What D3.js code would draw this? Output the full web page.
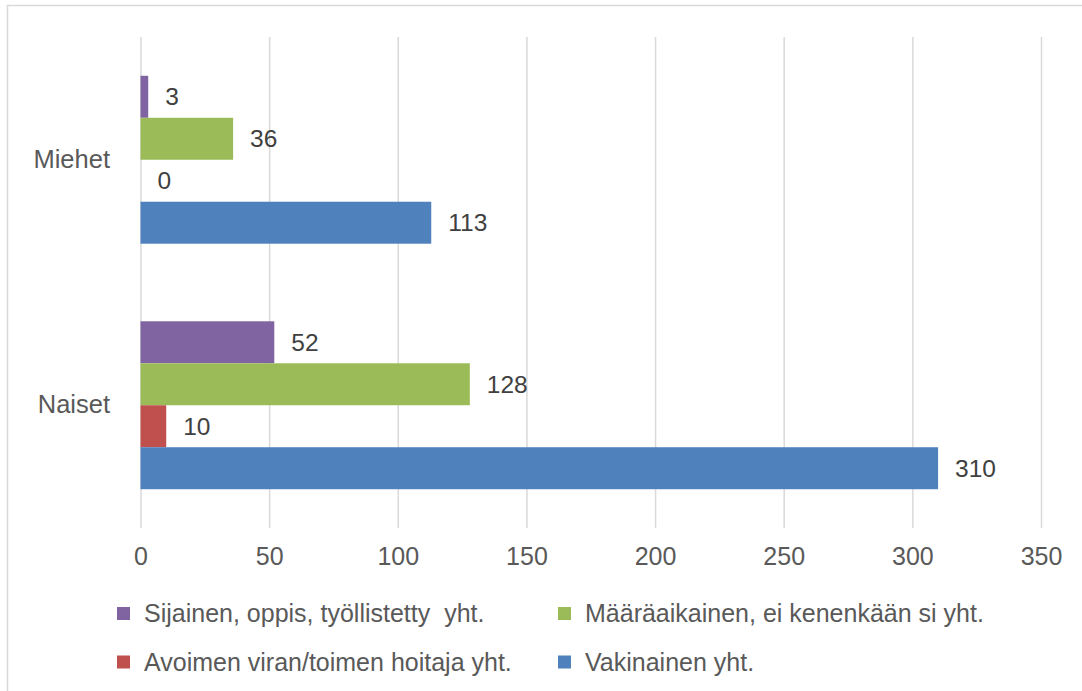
<!DOCTYPE html>
<html><head><meta charset="utf-8">
<script src="https://cdn.jsdelivr.net/npm/d3@7"></script>
<style>
html,body{margin:0;padding:0;background:#fff;}
svg{display:block;font-family:"Liberation Sans",Arial,sans-serif;}
</style></head>
<body><svg id="c" width="1082" height="691"></svg>
<script>
const categories = ["Miehet", "Naiset"];
const seriesNames = ["Sijainen, oppis, työllistetty  yht.", "Määräaikainen, ei kenenkään si yht.", "Avoimen viran/toimen hoitaja yht.", "Vakinainen yht."];
const seriesColors = ["#8064A2", "#9BBB59", "#C0504D", "#4F81BD"];
const sijainen = [3, 52];
const maaraaikainen = [36, 128];
const avoimen = [0, 10];
const vakinainen = [113, 310];
const xTicks = [0, 50, 100, 150, 200, 250, 300, 350];
const legendOrder = [[0, 1], [2, 3]];

const seriesValues = [sijainen, maaraaikainen, avoimen, vakinainen];
const svg = d3.select("#c");
const textColor = "#595959";

svg.append("rect").attr("x", 7.5).attr("y", 5.5).attr("width", 1090).attr("height", 700)
  .attr("fill", "#fff").attr("stroke", "#d9d9d9").attr("stroke-width", 1.5);

const x = d3.scaleLinear().domain([0, 350]).range([140.5, 1041]);
const y0 = d3.scaleBand().domain(categories).range([37, 528]).paddingInner(0.316).paddingOuter(0.158);
const y1 = d3.scaleBand().domain(d3.range(seriesNames.length)).range([0, y0.bandwidth()]);

// gridlines
const grid = svg.append("g").attr("transform", "translate(0,528)")
  .call(d3.axisBottom(x).tickValues(xTicks).tickSize(-491).tickFormat(""));
grid.select(".domain").remove();
grid.selectAll("line").attr("stroke", "#d9d9d9").attr("stroke-width", 1.5);

// tick labels
const ax = svg.append("g").attr("transform", "translate(0,528)")
  .call(d3.axisBottom(x).tickValues(xTicks).tickSize(0).tickPadding(0));
ax.select(".domain").remove();
ax.selectAll("text").attr("y", 28).attr("dy", "0.35em").attr("fill", textColor)
  .style("font-size", "25px").style("font-family", "'Liberation Sans', Arial, sans-serif");

// category labels
const yax = svg.append("g").attr("transform", "translate(110,0)")
  .call(d3.axisLeft(y0).tickSize(0).tickPadding(0));
yax.select(".domain").remove();
yax.selectAll("text").attr("x", 0).attr("fill", textColor).style("font-size", "25.5px")
  .style("font-family", "'Liberation Sans', Arial, sans-serif").attr("text-anchor", "end");

// bars
categories.forEach((cat, ci) => {
  const g = svg.append("g").attr("transform", `translate(0,${y0(cat)})`);
  seriesValues.forEach((vals, si) => {
    const v = vals[ci];
    g.append("rect").attr("x", x(0)).attr("y", y1(si))
      .attr("width", x(v) - x(0)).attr("height", y1.bandwidth())
      .attr("fill", seriesColors[si]);
    g.append("text").attr("x", x(v) + 17).attr("y", y1(si) + y1.bandwidth() / 2)
      .attr("dy", "0.35em").attr("fill", "#404040").style("font-size", "24.5px")
      .text(v);
  });
});

// legend
const legX = [117, 558];
const legY = [613.5, 662];
legendOrder.forEach((row, ri) => {
  row.forEach((si, ci) => {
    const g = svg.append("g").attr("transform", `translate(${legX[ci]},${legY[ri]})`);
    g.append("rect").attr("x", 0).attr("y", -6.5).attr("width", 13).attr("height", 13).attr("fill", seriesColors[si]);
    g.append("text").attr("x", 27).attr("y", 0).attr("dy", "0.35em").attr("fill", textColor)
      .style("font-size", "25px").style("white-space", "pre").attr("xml:space", "preserve")
      .text(seriesNames[si]);
  });
});
</script></body></html>
